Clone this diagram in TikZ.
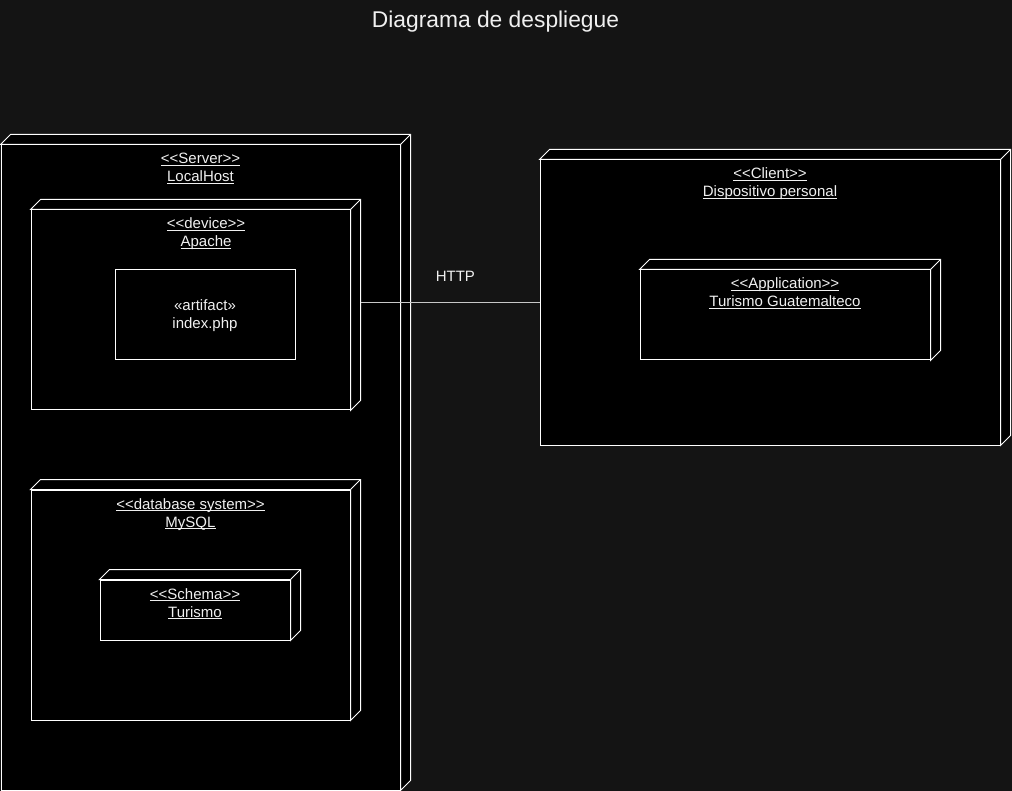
\documentclass[tikz,border=0pt]{standalone}
\usepackage{fontspec}
\setmainfont{Liberation Sans}
\usetikzlibrary{calc}
\definecolor{bgc}{HTML}{141414}
\definecolor{txt}{HTML}{F0F0F0}
\definecolor{conncol}{HTML}{C8C8C8}
\newcommand\myLL{<\kern0pt<}
\newcommand\myRR{>\kern0pt>}
\newcommand\myul[1]{\setbox0\hbox{#1}\rlap{\rule[-1.9pt]{\wd0}{0.9pt}}\box0}
\newcommand\threedbox[1]{%
  \filldraw[face] (#1.north west) -- ++(10,-10) -- ([shift={(10,-10)}]#1.north east)
    -- ([shift={(10,-10)}]#1.south east) -- (#1.south east) -- (#1.north east) -- cycle;
  \draw[face] (#1.north east) -- ++(10,-10);
}
\begin{document}
\begin{tikzpicture}[x=1pt,y=-1pt,
  face/.style={draw=white, fill=black, line width=1pt, line join=miter},
  nodebox/.style={draw=white, fill=black, line width=1pt, inner sep=0pt},
  lab/.style={text=txt, inner sep=0pt, anchor=base, font=\fontsize{15}{18}\selectfont},
  conn/.style={draw=conncol, line width=1pt}]
\useasboundingbox[fill=bgc] (0,0) rectangle (1012,791);
\node[lab, font=\fontsize{22.8}{27}\selectfont] (title) at (495.5,28) {Diagrama de despliegue};
% Server
\node[nodebox, minimum width=399pt, minimum height=645pt] (server) at (200.5,467.5) {};
\threedbox{server}
\node[lab] (server-s) at (200.5,164) {\myul{\myLL Server\myRR}};
\node[lab] (server-t) at (200.5,182) {\myul{LocalHost}};
% Apache
\node[nodebox, minimum width=319pt, minimum height=200pt] (apache) at (190.5,310) {};
\threedbox{apache}
\node[lab] (apache-s) at (206,229) {\myul{\myLL device\myRR}};
\node[lab] (apache-t) at (206,247) {\myul{Apache}};
% Artifact
\node[nodebox, minimum width=180pt, minimum height=90pt] (artifact) at (205,315) {};
\node[lab] (artifact-s) at (205,311) {«artifact»};
\node[lab] (artifact-t) at (205,329) {index.php};
% MySQL
\node[nodebox, minimum width=319pt, minimum height=230pt] (mysql) at (190.5,605) {};
\threedbox{mysql}
\node[lab] (mysql-s) at (190.5,509) {\myul{\myLL database system\myRR}};
\node[lab] (mysql-t) at (190.5,527) {\myul{MySQL}};
% Schema
\node[nodebox, minimum width=190pt, minimum height=60pt] (schema) at (195,610) {};
\threedbox{schema}
\node[lab] (schema-s) at (195,599) {\myul{\myLL Schema\myRR}};
\node[lab] (schema-t) at (195,617) {\myul{Turismo}};
% Client
\node[nodebox, minimum width=460pt, minimum height=285pt] (client) at (770,302.5) {};
\threedbox{client}
\node[lab] (client-s) at (770,179) {\myul{\myLL Client\myRR}};
\node[lab] (client-t) at (770,197) {\myul{Dispositivo personal}};
% Application
\node[nodebox, minimum width=290pt, minimum height=90pt] (app) at (785,315) {};
\threedbox{app}
\node[lab] (app-s) at (785,289) {\myul{\myLL Application\myRR}};
\node[lab] (app-t) at (785,307) {\myul{Turismo Guatemalteco}};
% Connector
\draw[conn] ([xshift=10pt,yshift=-0.5pt]apache.east |- client.west) -- ([yshift=-0.5pt]client.west)
  node[pos=0.53, yshift=27pt, anchor=center, text=txt, inner sep=0pt, font=\fontsize{15}{18}\selectfont] (http) {HTTP};
\end{tikzpicture}
\end{document}
